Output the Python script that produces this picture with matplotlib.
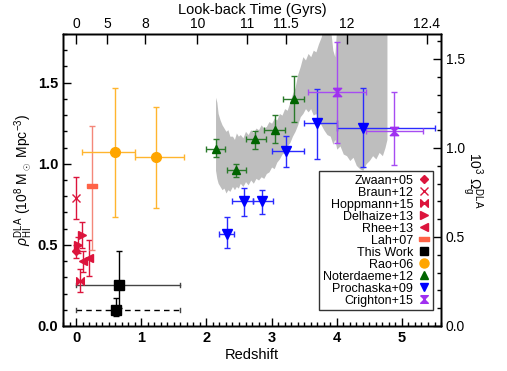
import matplotlib
matplotlib.use('Agg')
import matplotlib.pyplot as plt
from matplotlib.lines import Line2D
from matplotlib.ticker import MultipleLocator, FormatStrFormatter

plt.rcParams['font.family'] = ['Liberation Sans', 'DejaVu Sans']
plt.rcParams['mathtext.fontset'] = 'custom'
plt.rcParams['mathtext.rm'] = 'Liberation Sans'
plt.rcParams['mathtext.it'] = 'Liberation Sans:italic'

# ---- data (redshift, rho_HI in 1e8 Msun/Mpc^3) ----
zwaan_z = [0.0]
zwaan_rho = [0.46]
zwaan_err = [0.04]

braun_z = [0.0]
braun_rho = [0.79]
braun_err = [0.13]

hopp_z = [0.06]
hopp_rho = [0.28]
hopp_err = [0.07]

delh_z = [0.028, 0.096]
delh_rho = [0.50, 0.56]
delh_err = [0.05, 0.08]

rhee_z = [0.10, 0.20]
rhee_rho = [0.40, 0.42]
rhee_err = [0.065, 0.11]

lah_z = [0.24]
lah_rho = [0.86]
lah_err_lo = [0.39]
lah_err_hi = [0.37]

# this work: solid and dashed points
tw_z = [0.66, 0.61]
tw_rho = [0.25, 0.10]
tw_zlo = [0.0, 0.0]
tw_zhi = [1.6, 1.6]
tw_err_lo = [0.14, 0.04]
tw_err_hi = [0.21, 0.07]

rao_z = [0.60, 1.22]
rao_rho = [1.07, 1.04]
rao_zlo = [0.09, 0.90]
rao_zhi = [0.90, 1.65]
rao_err_lo = [0.40, 0.31]
rao_err_hi = [0.40, 0.31]

not_z = [2.14, 2.45, 2.74, 3.05, 3.35]
not_rho = [1.09, 0.96, 1.15, 1.21, 1.40]
not_zlo = [2.00, 2.31, 2.60, 2.89, 3.18]
not_zhi = [2.29, 2.60, 2.91, 3.20, 3.50]
not_err_lo = [0.05, 0.04, 0.06, 0.08, 0.14]
not_err_hi = [0.06, 0.04, 0.05, 0.09, 0.14]

pro_z = [2.31, 2.57, 2.86, 3.22, 3.70, 4.40]
pro_rho = [0.57, 0.77, 0.77, 1.08, 1.25, 1.22]
pro_zlo = [2.20, 2.40, 2.71, 3.00, 3.50, 4.00]
pro_zhi = [2.42, 2.71, 3.02, 3.50, 4.00, 5.50]
pro_err_lo = [0.09, 0.09, 0.08, 0.10, 0.22, 0.24]
pro_err_hi = [0.10, 0.08, 0.07, 0.09, 0.21, 0.25]

cri_z = [4.00, 4.88]
cri_rho = [1.44, 1.20]
cri_zlo = [3.56, 4.45]
cri_zhi = [4.45, 5.32]
cri_err_lo = [0.31, 0.21]
cri_err_hi = [0.31, 0.24]

# Noterdaeme+12 shaded region (edges)
band_z = [2.14, 2.16, 2.18, 2.21, 2.24, 2.27, 2.30, 2.33, 2.36, 2.40, 2.43,
          2.46, 2.49, 2.52, 2.56, 2.60, 2.64, 2.68, 2.72, 2.76, 2.80, 2.84,
          2.88, 2.92, 2.96, 3.00, 3.04, 3.08, 3.12, 3.16, 3.20, 3.24, 3.28,
          3.32, 3.36, 3.40, 3.44, 3.48, 3.52, 3.56, 3.60, 3.64, 3.68, 3.72,
          3.76, 3.80, 3.85, 3.90, 3.94, 3.97, 4.00, 4.05, 4.10, 4.15, 4.20,
          4.25, 4.30, 4.35, 4.40, 4.45, 4.50, 4.55, 4.60, 4.65, 4.70, 4.74,
          4.77]
band_hi = [1.41, 1.38, 1.31, 1.27, 1.24, 1.22, 1.20, 1.21, 1.17, 1.17, 1.15,
           1.19, 1.17, 1.18, 1.16, 1.20, 1.18, 1.21, 1.19, 1.22, 1.21, 1.24,
           1.22, 1.23, 1.26, 1.25, 1.28, 1.27, 1.31, 1.30, 1.34, 1.33, 1.38,
           1.43, 1.47, 1.55, 1.60, 1.66, 1.64, 1.68, 1.66, 1.70, 1.69, 1.74,
           1.78, 1.85, 1.85, 1.85, 1.70, 1.66, 1.85, 1.85, 1.85, 1.85, 1.85,
           1.85, 1.85, 1.85, 1.85, 1.85, 1.85, 1.85, 1.85, 1.85, 1.85, 1.85,
           1.85]
band_lo = [0.96, 0.91, 0.88, 0.86, 0.84, 0.85, 0.82, 0.84, 0.83, 0.86, 0.84,
           0.86, 0.85, 0.88, 0.86, 0.89, 0.87, 0.90, 0.88, 0.91, 0.90, 0.92,
           0.91, 0.94, 0.95, 0.98, 0.97, 1.01, 1.03, 1.06, 1.07, 1.11, 1.13,
           1.17, 1.20, 1.24, 1.29, 1.31, 1.34, 1.32, 1.34, 1.30, 1.31, 1.26,
           1.24, 1.21, 1.18, 1.17, 1.12, 1.15, 1.09, 1.11, 1.06, 1.05, 1.02,
           1.04, 0.99, 0.97, 0.96, 1.00, 1.02, 1.05, 1.03, 1.07, 1.05, 1.10,
           1.15]

# top axis: look-back time
lb_labels = ['0', '5', '8', '10', '11', '11.5', '12', '12.4']
lb_z = [0.0, 0.48, 1.06, 1.86, 2.63, 3.22, 4.15, 5.38]

RED = '#DC143C'
# custom markers
bowtie = [(-1, -1), (-1, 1), (1, -1), (1, 1), (-1, -1)]
hourglass = [(-1, 1), (1, 1), (-1, -1), (1, -1), (-1, 1)]
bar = [(-1, -0.4), (1, -0.4), (1, 0.4), (-1, 0.4), (-1, -0.4)]


def xe(z, lo, hi):
    return [[a - b for a, b in zip(z, lo)], [b - a for a, b in zip(z, hi)]]


fig = plt.figure(figsize=(5.07, 3.71), dpi=100)
ax = fig.add_axes([0.1243, 0.1213, 0.7456, 0.7871])

ax.fill_between(band_z, band_lo, band_hi, color='#BEBEBE', lw=0, zorder=1)

kw = dict(ls='none', capsize=2.5, elinewidth=1.0, capthick=1.0, zorder=3)

ax.errorbar(zwaan_z, zwaan_rho, yerr=zwaan_err, marker='D', ms=4.5,
            color=RED, **kw)
ax.errorbar(braun_z, braun_rho, yerr=braun_err, marker='x', ms=6, mew=1.0,
            color=RED, **kw)
ax.errorbar(hopp_z, hopp_rho, yerr=hopp_err, marker=bowtie, ms=5.5,
            color=RED, **kw)
ax.errorbar(delh_z, delh_rho, yerr=delh_err, marker='>', ms=5.5,
            color=RED, **kw)
ax.errorbar(rhee_z, rhee_rho, yerr=rhee_err, marker='<', ms=5.5,
            color=RED, **kw)
ax.errorbar(lah_z, lah_rho, yerr=[lah_err_lo, lah_err_hi], marker=bar, ms=7,
            color='#FF6347', ecolor='#F4877A', **kw)

# this work
ax.plot([tw_zlo[0], tw_zhi[0]], [tw_rho[0], tw_rho[0]], color='#444444',
        lw=1.0, zorder=2)
ax.plot([tw_zlo[1], tw_zhi[1]], [tw_rho[1], tw_rho[1]], color='black',
        lw=1.0, ls=(0, (4, 3)), zorder=2)
for i in range(2):
    for xx in (tw_zlo[i], tw_zhi[i]):
        ax.plot([xx, xx], [tw_rho[i] - 0.012, tw_rho[i] + 0.012],
                color='#444444', lw=1.0, zorder=2)
ax.errorbar(tw_z, tw_rho, yerr=[tw_err_lo, tw_err_hi], marker='s', ms=6.5,
            color='black', **kw)

ax.errorbar(rao_z, rao_rho, xerr=xe(rao_z, rao_zlo, rao_zhi),
            yerr=[rao_err_lo, rao_err_hi], marker='o', ms=7,
            color='#FFA500', ecolor='#FFB52E', **kw)
ax.errorbar(not_z, not_rho, xerr=xe(not_z, not_zlo, not_zhi),
            yerr=[not_err_lo, not_err_hi], marker='^', ms=6,
            color='#006400', ecolor='#2A7A2A', **kw)
ax.errorbar(pro_z, pro_rho, xerr=xe(pro_z, pro_zlo, pro_zhi),
            yerr=[pro_err_lo, pro_err_hi], marker='v', ms=6.5,
            color='#0000FF', ecolor='#2A2AFF', **kw)
ax.errorbar(cri_z, cri_rho, xerr=xe(cri_z, cri_zlo, cri_zhi),
            yerr=[cri_err_lo, cri_err_hi], marker=hourglass, ms=6,
            color='#A030F0', ecolor='#A64CF2', **kw)

ax.set_xlim(-0.2, 5.6)
ax.set_ylim(0, 1.8)
ax.xaxis.set_major_locator(MultipleLocator(1))
ax.xaxis.set_minor_locator(MultipleLocator(0.1))
ax.yaxis.set_major_locator(MultipleLocator(0.5))
ax.yaxis.set_minor_locator(MultipleLocator(0.1))
ax.yaxis.set_major_formatter(FormatStrFormatter('%.1f'))
ax.tick_params(which='both', direction='in', top=False, right=False,
               width=1.0)
ax.tick_params(which='major', length=6, labelsize=10.5)
ax.tick_params(which='minor', length=3)
for lab in ax.get_xticklabels() + ax.get_yticklabels():
    lab.set_fontweight('bold')
ax.set_xlabel('Redshift', fontsize=10.5, labelpad=2)
ax.set_ylabel(r'$\rho_{\rm HI}^{\rm DLA}$ (10$^8$ M$_\odot$ Mpc$^{-3}$)',
              fontsize=10, labelpad=2)

# top axis
axt = ax.twiny()
axt.set_xlim(ax.get_xlim())
axt.set_xticks(lb_z)
axt.set_xticklabels(lb_labels)
axt.tick_params(direction='in', length=7, width=1.0, labelsize=10, pad=2)
axt.set_xlabel('Look-back Time (Gyrs)', fontsize=10.5, labelpad=2)

# right axis
axr = ax.twinx()
axr.set_ylim(0, 1.64)
axr.yaxis.set_major_locator(MultipleLocator(0.5))
axr.yaxis.set_minor_locator(MultipleLocator(0.1))
axr.yaxis.set_major_formatter(FormatStrFormatter('%.1f'))
axr.tick_params(which='both', direction='in', width=1.0, labelsize=10)
axr.tick_params(which='major', length=6)
axr.tick_params(which='minor', length=3)
axr.set_ylabel(r'10$^3$ $\Omega_{\rm g}^{\rm DLA}$', fontsize=10,
               rotation=-90, labelpad=14)

for a in (ax, axt, axr):
    for s in a.spines.values():
        s.set_linewidth(1.0)

handles = [
    Line2D([], [], ls='none', marker='D', ms=4.5, color=RED),
    Line2D([], [], ls='none', marker='x', ms=6, mew=1.0, color=RED),
    Line2D([], [], ls='none', marker=bowtie, ms=5.5, color=RED),
    Line2D([], [], ls='none', marker='>', ms=5.5, color=RED),
    Line2D([], [], ls='none', marker='<', ms=5.5, color=RED),
    Line2D([], [], ls='none', marker=bar, ms=7, color='#FF6347'),
    Line2D([], [], ls='none', marker='s', ms=6, color='black'),
    Line2D([], [], ls='none', marker='o', ms=6.5, color='#FFA500'),
    Line2D([], [], ls='none', marker='^', ms=6, color='#006400'),
    Line2D([], [], ls='none', marker='v', ms=6, color='#0000FF'),
    Line2D([], [], ls='none', marker=hourglass, ms=5.5, color='#A030F0'),
]
labels = ['Zwaan+05', 'Braun+12', 'Hoppmann+15', 'Delhaize+13', 'Rhee+13',
          'Lah+07', 'This Work', 'Rao+06', 'Noterdaeme+12', 'Prochaska+09',
          'Crighton+15']
leg = axr.legend(handles, labels, loc='upper right',
                 bbox_to_anchor=(0.979, 0.531), borderaxespad=0,
                 markerfirst=False, fontsize=9, labelspacing=0.0,
                 handlelength=0.9, handletextpad=0.4, borderpad=0.3,
                 fancybox=False, framealpha=1)
leg.get_frame().set_edgecolor('#333333')
leg.get_frame().set_linewidth(1.0)

fig.savefig('out.png', dpi=100)
